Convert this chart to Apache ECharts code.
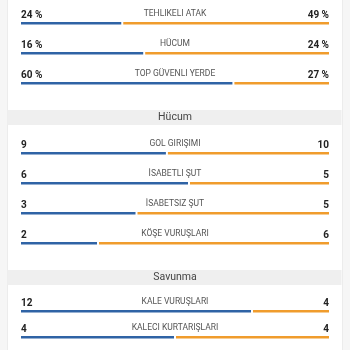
<!DOCTYPE html>
<html>
<head>
<meta charset="utf-8">
<script src="https://cdn.jsdelivr.net/npm/echarts@6/dist/echarts.min.js"></script>
<style>
  html, body { margin: 0; padding: 0; background: #f6f6f6; }
  #chart { width: 350px; height: 350px; }
</style>
</head>
<body>
<div id="chart"></div>
<script>
// Match statistics: home team (blue) vs away team (orange)
const sectionTitles = ['', 'Hücum', 'Savunma'];

const generalLabels = ['TEHLIKELI ATAK', 'HÜCUM', 'TOP GÜVENLI YERDE'];
const generalHome = [24, 16, 60];
const generalAway = [49, 24, 27];

const attackLabels = ['GOL GIRIŞIMI', 'İSABETLI ŞUT', 'İSABETSIZ ŞUT', 'KÖŞE VURUŞLARI'];
const attackHome = [9, 6, 3, 2];
const attackAway = [10, 5, 5, 6];

const defenceLabels = ['KALE VURUŞLARI', 'KALECI KURTARIŞLARI'];
const defenceHome = [12, 4];
const defenceAway = [4, 4];

const HOME_COLOR = '#2f63a5';
const AWAY_COLOR = '#f09c2c';
const FONT = 'Roboto, "Noto Sans", sans-serif';

const sections = [
  { labels: generalLabels, home: generalHome, away: generalAway, suffix: ' %', top: 8 },
  { labels: attackLabels, home: attackHome, away: attackAway, suffix: '', top: 138 },
  { labels: defenceLabels, home: defenceHome, away: defenceAway, suffix: '', top: 298 }
];
const ROW_H = 30;

function makeRenderer(sec) {
  return function (params, api) {
    const i = api.value(1);
    const share = api.value(0);
    const p0 = api.coord([0, i]);
    const pm = api.coord([share, i]);
    const p1 = api.coord([1, i]);
    const y = p0[1];
    return {
      type: 'group',
      children: [
        { type: 'rect', shape: { x: p0[0], y: y - 1, width: pm[0] - p0[0] - 1, height: 2.5 },
          style: { fill: HOME_COLOR } },
        { type: 'rect', shape: { x: pm[0] + 1, y: y - 1, width: p1[0] - pm[0] - 1, height: 2.5 },
          style: { fill: AWAY_COLOR } },
        { type: 'text', style: { text: sec.home[i] + sec.suffix, x: p0[0], y: y - 8,
            align: 'left', verticalAlign: 'middle', fill: '#222',
            fontSize: 10, fontWeight: 'bold', fontFamily: FONT } },
        { type: 'text', style: { text: sec.labels[i], x: (p0[0] + p1[0]) / 2, y: y - 9,
            align: 'center', verticalAlign: 'middle', fill: '#555',
            fontSize: 8.5, fontFamily: FONT } },
        { type: 'text', style: { text: sec.away[i] + sec.suffix, x: p1[0], y: y - 8,
            align: 'right', verticalAlign: 'middle', fill: '#222',
            fontSize: 10, fontWeight: 'bold', fontFamily: FONT } }
      ]
    };
  };
}

const grids = [], xAxes = [], yAxes = [], series = [];
sections.forEach((sec, k) => {
  grids.push({ left: 21, right: 21, top: sec.top, height: ROW_H * sec.labels.length });
  xAxes.push({ type: 'value', gridIndex: k, min: 0, max: 1, show: false });
  yAxes.push({ type: 'category', gridIndex: k, inverse: true, show: false,
    data: sec.labels });
  series.push({
    type: 'custom', xAxisIndex: k, yAxisIndex: k,
    encode: { x: 0, y: 1 },
    data: sec.home.map((v, i) => [v / (v + sec.away[i]), i]),
    renderItem: makeRenderer(sec),
    silent: true
  });
});

// Card background and section header bands
const headerY = [null, 110, 270];
const graphics = [
  { type: 'rect', left: 7, top: -2, z: -10,
    shape: { width: 335, height: 360 },
    style: { fill: '#ffffff', stroke: '#ececec', lineWidth: 1 } }
];
sectionTitles.forEach((t, k) => {
  if (!t) return;
  graphics.push({ type: 'rect', left: 7.5, top: headerY[k], z: -5,
    shape: { width: 334, height: 15 }, style: { fill: '#efefef' } });
  graphics.push({ type: 'text', x: 175, y: headerY[k] + 7.5, z: 5,
    style: { text: t, align: 'center', verticalAlign: 'middle',
      fill: '#444', fontSize: 10.5, fontFamily: FONT } });
});

const chart = echarts.init(document.getElementById('chart'), null, { renderer: 'canvas' });
chart.setOption({
  animation: false,
  backgroundColor: '#f6f6f6',
  graphic: graphics,
  grid: grids,
  xAxis: xAxes,
  yAxis: yAxes,
  series: series
});
</script>
</body>
</html>
